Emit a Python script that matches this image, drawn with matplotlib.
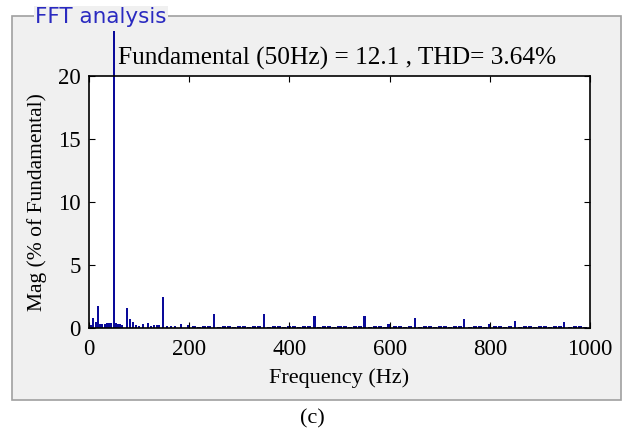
import numpy as np
import matplotlib.pyplot as plt
from matplotlib.patches import Rectangle

# dominant components (Hz, % of fundamental)
fund_freq = 50
fund_mag = 23.6   # bar runs past the axes top in the reference

low_freqs = [4, 8, 14, 18, 22, 26, 32, 36, 40, 44, 54, 58, 62, 66, 76, 82, 88, 94, 100,
             108, 118, 124, 130, 136, 140, 148, 156, 164, 172, 184, 198]
low_mags = [0.2, 0.8, 0.5, 1.75, 0.3, 0.3, 0.35, 0.4, 0.4, 0.4, 0.4, 0.3, 0.3, 0.25, 1.6,
            0.7, 0.5, 0.2, 0.15, 0.3, 0.4, 0.15, 0.2, 0.2, 0.25, 2.5, 0.15, 0.15, 0.15, 0.3, 0.2]

harm_freqs = [250, 350, 450, 550, 598, 650, 748, 798, 850, 948]
harm_mags = [1.1, 1.1, 0.98, 0.93, 0.3, 0.8, 0.7, 0.3, 0.55, 0.45]

floor_freqs = [210, 220, 230, 240, 260, 270, 280, 290, 300, 310, 320, 330, 340, 360, 370,
               380, 390, 400, 410, 420, 430, 440, 460, 470, 480, 490, 500, 510, 520, 530,
               540, 560, 570, 580, 590, 610, 620, 630, 640, 660, 670, 680, 690, 700, 710,
               720, 730, 740, 760, 770, 780, 790, 810, 820, 830, 840, 860, 870, 880, 890,
               900, 910, 920, 930, 940, 960, 970, 980, 990]
floor_mags = [0.12, 0.1, 0.12, 0.12, 0.1, 0.12, 0.12, 0.1, 0.12, 0.12, 0.1, 0.12, 0.12, 0.1, 0.12,
              0.12, 0.1, 0.12, 0.12, 0.1, 0.12, 0.12, 0.1, 0.12, 0.12, 0.1, 0.12, 0.12, 0.1, 0.12,
              0.12, 0.1, 0.12, 0.12, 0.1, 0.12, 0.12, 0.1, 0.12, 0.1, 0.12, 0.12, 0.1, 0.12, 0.12,
              0.1, 0.12, 0.12, 0.1, 0.12, 0.12, 0.1, 0.12, 0.12, 0.1, 0.12, 0.1, 0.12, 0.12, 0.1,
              0.12, 0.12, 0.1, 0.12, 0.12, 0.1, 0.12, 0.12, 0.1]

bar_color = '#0a0a9a'
serif = ['Liberation Serif', 'DejaVu Serif']

fig = plt.figure(figsize=(6.25, 4.38), dpi=100)
fig.patch.set_facecolor('white')

# grey panel behind everything
panel = Rectangle((12 / 625, 1 - 400 / 438), 609 / 625, 384 / 438, transform=fig.transFigure,
                  facecolor='#f0f0f0', edgecolor='#a0a0a0', linewidth=1.2, zorder=-10)
fig.patches.append(panel)
fig.text(35 / 625, 1 - 17 / 438, 'FFT analysis', color='#2a2ac0', fontsize=15.5,
         family='DejaVu Sans', va='center', ha='left',
         bbox=dict(facecolor='#f0f0f0', edgecolor='none', pad=1))

ax = fig.add_axes([89 / 625, 1 - 328 / 438, 501 / 625, 252 / 438], zorder=5)
ax.set_facecolor('white')

ax.bar(floor_freqs, floor_mags, width=8, color=bar_color, linewidth=0)
ax.bar(low_freqs, low_mags, width=4, color=bar_color, linewidth=0)
ax.bar(harm_freqs, harm_mags, width=4.5, color=bar_color, linewidth=0)
ax.bar([fund_freq], [fund_mag], width=5.5, color=bar_color, linewidth=0, clip_on=False)

ax.set_xlim(0, 1000)
ax.set_ylim(0, 20)
ax.set_xticks([0, 200, 400, 600, 800, 1000])
ax.set_yticks([0, 5, 10, 15, 20])
ax.tick_params(direction='in', top=True, right=True, length=4, labelsize=16.5)
ax.tick_params(axis='x', pad=8)
ax.tick_params(axis='y', pad=6)
for lab in ax.get_xticklabels() + ax.get_yticklabels():
    lab.set_family(serif)
for s in ax.spines.values():
    s.set_linewidth(1.2)

ax.set_xlabel('Frequency (Hz)', fontsize=16, family=serif, labelpad=6)
ax.set_ylabel('Mag (% of Fundamental)', fontsize=15.5, family=serif, labelpad=8)

fig.text(337 / 625, 1 - 58 / 438, 'Fundamental (50Hz) = 12.1 , THD= 3.64%',
         fontsize=18.3, family=serif, ha='center', va='center', zorder=6)
fig.text(312 / 625, 1 - 419 / 438, '(c)', fontsize=16, family=serif, ha='center', va='center')

fig.savefig('out.png', dpi=100, facecolor=fig.get_facecolor())
